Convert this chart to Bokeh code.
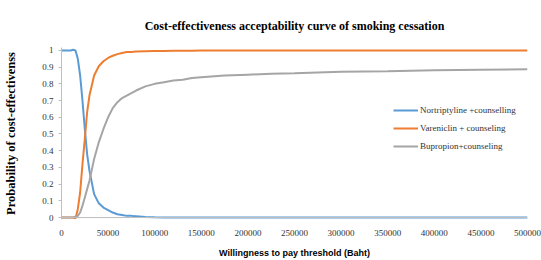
from bokeh.plotting import figure
from bokeh.models import Range1d, FixedTicker, BasicTickFormatter, Span, Legend, LegendItem, Title
from bokeh.embed import file_html
from bokeh.resources import INLINE

# ---- data ----
wtp = [0, 5000, 10000, 12500, 15000, 17500, 20000, 22500, 25000, 27500, 30000,
       35000, 40000, 45000, 50000, 55000, 60000, 65000, 70000, 75000, 80000,
       90000, 100000, 110000, 120000, 130000, 140000, 150000, 175000, 200000,
       225000, 250000, 275000, 300000, 350000, 400000, 450000, 500000]

nortriptyline = [1.0, 1.0, 1.0, 1.004, 1.0, 0.95, 0.85, 0.70, 0.53, 0.38, 0.28,
                 0.14, 0.085, 0.06, 0.045, 0.03, 0.02, 0.015, 0.01, 0.01, 0.008,
                 0.004, 0.002, 0.001, 0.001, 0.0, 0.0, 0.0, 0.0, 0.0,
                 0.0, 0.0, 0.0, 0.0, 0.0, 0.0, 0.0, 0.0]

varenicline = [0.0, 0.0, 0.0, 0.0, -0.005, 0.05, 0.15, 0.32, 0.47, 0.63, 0.73,
               0.85, 0.905, 0.935, 0.955, 0.968, 0.978, 0.985, 0.99, 0.99, 0.993,
               0.995, 0.997, 0.997, 0.998, 0.998, 0.998, 0.999, 0.999, 0.999,
               0.999, 0.999, 0.999, 0.999, 0.999, 0.999, 0.999, 0.999]

bupropion = [0.0, 0.0, 0.0, 0.0, 0.005, 0.01, 0.03, 0.07, 0.12, 0.17, 0.22,
             0.35, 0.45, 0.53, 0.60, 0.655, 0.69, 0.715, 0.73, 0.745, 0.76,
             0.785, 0.80, 0.81, 0.82, 0.825, 0.835, 0.84, 0.85, 0.855,
             0.86, 0.863, 0.868, 0.872, 0.876, 0.882, 0.885, 0.887]

series_names = ["Nortriptyline +counselling", "Vareniclin + counseling", "Bupropion+counseling"]
series_colors = ["#5B9BD5", "#ED7D31", "#A5A5A5"]

x_ticks = [0, 50000, 100000, 150000, 200000, 250000, 300000, 350000, 400000, 450000, 500000]
y_ticks = [0, 0.1, 0.2, 0.3, 0.4, 0.5, 0.6, 0.7, 0.8, 0.9, 1]

SERIF = "Liberation Serif"
SANS = "Liberation Sans"

p = figure(width=541, height=260, output_backend="svg", toolbar_location=None,
           x_range=Range1d(0, 500000), y_range=Range1d(-0.0117, 1.0175),
           min_border_left=61, min_border_right=14, min_border_top=47, min_border_bottom=37)
p.outline_line_color = None
p.xgrid.visible = False
p.ygrid.visible = False
p.background_fill_color = "white"
p.border_fill_color = "white"

title = Title(text="Cost-effectiveness acceptability curve of smoking cessation",
              align="center", text_font=SERIF, text_font_size="12px",
              text_font_style="bold", text_color="black", standoff=29)
p.add_layout(title, "above")

# axes
xa = p.xaxis[0]
xa.ticker = FixedTicker(ticks=x_ticks)
xa.formatter = BasicTickFormatter(use_scientific=False)
xa.axis_line_color = None
xa.major_tick_line_color = None
xa.minor_tick_line_color = None
xa.major_label_text_font = SERIF
xa.major_label_text_font_size = "9px"
xa.major_label_text_color = "#333333"
xa.major_label_standoff = 4
xa.axis_label = "Willingness to pay threshold (Baht)"
xa.axis_label_text_font = SANS
xa.axis_label_text_font_size = "9px"
xa.axis_label_text_font_style = "bold"
xa.axis_label_text_color = "black"
xa.axis_label_standoff = 9

ya = p.yaxis[0]
ya.ticker = FixedTicker(ticks=y_ticks)
ya.major_label_overrides = {0: "0", 1: "1"}
ya.axis_line_color = "#BFBFBF"
ya.major_tick_line_color = "#BFBFBF"
ya.major_tick_out = 3
ya.major_tick_in = 0
ya.minor_tick_line_color = None
ya.major_label_text_font = SERIF
ya.major_label_text_font_size = "9px"
ya.major_label_text_color = "#333333"
ya.major_label_standoff = 5
ya.axis_label = "Probability of cost-effectivenss"
ya.axis_label_text_font = SERIF
ya.axis_label_text_font_size = "12.5px"
ya.axis_label_text_font_style = "bold"
ya.axis_label_text_color = "black"
ya.axis_label_standoff = 21

p.add_layout(Span(location=0, dimension="width", line_color="#BFBFBF", line_width=1))

items = []
for ys, name, col in zip([nortriptyline, varenicline, bupropion], series_names, series_colors):
    r = p.line(wtp, ys, line_color=col, line_width=2)
    items.append(LegendItem(label=name, renderers=[r]))

legend = Legend(items=items, location=(332, 67), orientation="vertical",
                label_text_font=SERIF, label_text_font_size="9px", label_text_color="#333333",
                glyph_width=25, glyph_height=12, label_height=12, label_standoff=2,
                spacing=6, padding=0, margin=0,
                border_line_color=None, background_fill_alpha=0)
p.add_layout(legend, "center")

open("out.html", "w").write(file_html(p, INLINE))
